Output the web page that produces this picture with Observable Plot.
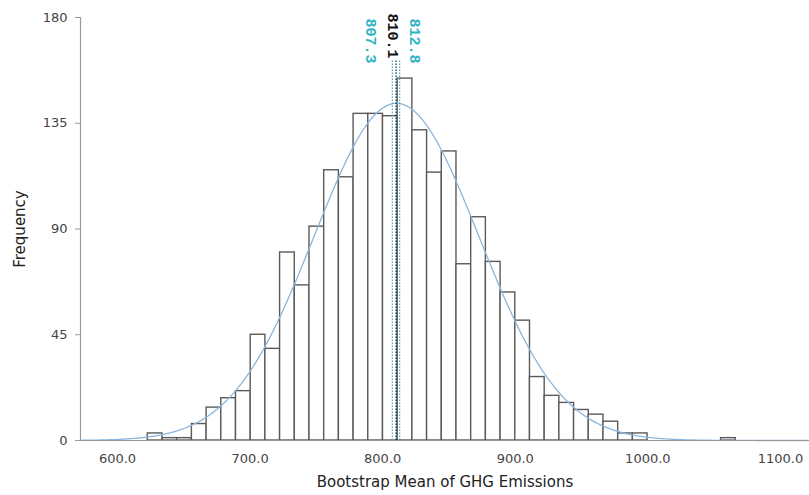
<!DOCTYPE html>
<html><head><meta charset="utf-8">
<script src="https://cdn.jsdelivr.net/npm/d3@7"></script>
<script src="https://cdn.jsdelivr.net/npm/@observablehq/plot@0.6"></script>
<style>body{margin:0;background:#fff} svg{display:block}</style>
</head><body><div id="chart"></div>
<script>
// Histogram bins (SPSS bootstrap distribution)
const binStart = 622.85;
const binWidth = 11.086;
const counts = [3, 1, 1, 7, 14, 18, 21, 45, 39, 80,
                66, 91, 115, 112, 139, 139, 138, 154, 132, 114,
                123, 75, 95, 76, 63, 51, 27, 19, 16, 13,
                11, 8, 3, 3, 0, 0, 0, 0, 0, 1];
const yTicks = [0, 45, 90, 135, 180];
const xTicks = [600, 700, 800, 900, 1000, 1100];
const refValues = [807.3, 810.1, 812.8];
const refLabels = ["807.3", "810.1", "812.8"];
const refKinds = ["ci", "mean", "ci"];

const xDomain = [572.1, 1121.9];

const bins = counts.map((c, i) => ({x1: binStart + i * binWidth, x2: binStart + (i + 1) * binWidth, count: c}));

// normal curve fitted to the histogram (mean, sd from the bins)
const N = d3.sum(counts);
const mids = bins.map(b => (b.x1 + b.x2) / 2);
const mu = d3.sum(bins, (b, i) => b.count * mids[i]) / N;
const sd = Math.sqrt(d3.sum(bins, (b, i) => b.count * (mids[i] - mu) ** 2) / (N - 1));
const curve = d3.range(xDomain[0], xDomain[1] + 0.5, 1).map(x => ({
  x, y: N * binWidth * Math.exp(-0.5 * ((x - mu) / sd) ** 2) / (sd * Math.sqrt(2 * Math.PI))
}));

const refs = refValues.map((v, i) => ({value: v, label: refLabels[i], kind: refKinds[i]}));
const teal = "#2fb3c4";
const labelDx = {"807.3": -22, "810.1": -3, "812.8": 15};

const chart = Plot.plot({
  width: 809,
  height: 495,
  marginLeft: 80,
  marginRight: 0,
  marginTop: 17,
  marginBottom: 55,
  style: {fontFamily: "DejaVu Sans, Verdana, sans-serif", fontSize: "13px", color: "#444", background: "#fff"},
  x: {domain: xDomain},
  y: {domain: [0, 180]},
  marks: [
    Plot.rectY(bins, {x1: "x1", x2: "x2", y: "count", fill: "white", stroke: "#5a5a5a", strokeWidth: 1.4}),
    Plot.line(curve, {x: "x", y: "y", stroke: "#8ab6df", strokeWidth: 1.3}),
    Plot.ruleX(refs, {x: "value", y1: 0, y2: 162, stroke: d => d.kind === "mean" ? "#222" : teal,
      strokeDasharray: "1.5,1.5", strokeWidth: 1.2}),
    ...refs.map(r => Plot.text([r], {x: "value", y: 180, text: "label", rotate: 90, textAnchor: "start",
      dx: labelDx[r.label], dy: r.kind === "mean" ? -4 : 1,
      fill: r.kind === "mean" ? "#111" : teal, fontWeight: "bold",
      fontFamily: "Liberation Mono, DejaVu Sans Mono, monospace", fontSize: 15})),
    Plot.ruleY([0], {stroke: "#999", strokeWidth: 1.2}),
    Plot.ruleX([xDomain[0]], {y1: 0, y2: 180, stroke: "#999", strokeWidth: 1.2}),
    Plot.axisY({ticks: yTicks, tickFormat: d3.format("d"), tickSize: 5, tickPadding: 8, stroke: "#999", fill: "#444", label: null}),
    Plot.axisY({ticks: [], tickSize: 0, label: "Frequency", labelAnchor: "center", labelOffset: 66, labelArrow: "none",
      fill: "#222", fontSize: 15}),
    Plot.axisX({ticks: xTicks, tickFormat: d3.format(".1f"), tickSize: 0, tickPadding: 13, fill: "#444", label: null}),
    Plot.axisX({ticks: [], tickSize: 0, label: "Bootstrap Mean of GHG Emissions", labelAnchor: "center", labelOffset: 46,
      labelArrow: "none", fill: "#222", fontSize: 15})
  ]
});
document.getElementById("chart").append(chart);
</script>
</body></html>
